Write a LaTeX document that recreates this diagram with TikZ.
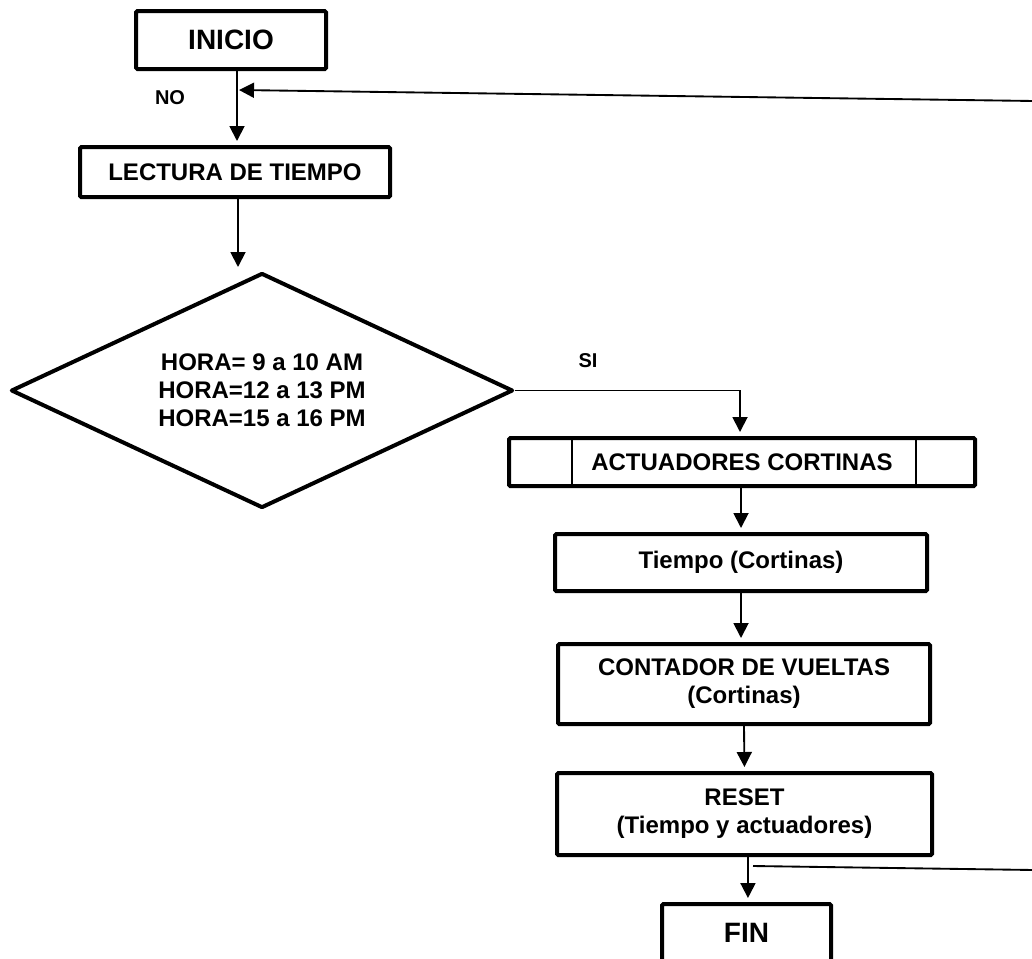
\documentclass[tikz,border=0pt]{standalone}
\usepackage{fontspec}
\setmainfont{Liberation Sans}
\usetikzlibrary{arrows.meta,shapes.geometric}

\tikzset{
  box/.style={draw, line width=3pt, rounded corners=1pt, fill=white,
    inner sep=0pt, align=center, font=\fontsize{18}{21}\selectfont\bfseries},
  bigbox/.style={box, font=\fontsize{21}{25}\selectfont\bfseries},
  decision/.style={draw, shape=diamond, aspect=2.14, line width=3pt, line join=round,
    inner sep=0pt, align=center, font=\fontsize{18}{21}\selectfont\bfseries},
  flow/.style={line width=1.4pt, -{Triangle[length=11.25pt,width=11.25pt]}, shorten >=3pt},
  loopline/.style={line width=1.4pt},
  tag/.style={font=\fontsize{15}{18}\selectfont\bfseries, inner sep=0pt}
}

\begin{document}
\begin{tikzpicture}[x=0.75pt,y=-0.75pt]
\useasboundingbox (0,0) rectangle (1032,958);

% process blocks
\node[bigbox, minimum width=142.5pt, minimum height=43.5pt] (ini) at (231,40) {INICIO};
\node[box, minimum width=232.5pt, minimum height=37.5pt] (lect) at (235,172) {LECTURA DE TIEMPO};
\node[decision, minimum width=376.5pt, minimum height=176.25pt] (dia) at (262,390.5)
  {HORA= 9 a 10 AM\\HORA=12 a 13 PM\\HORA=15 a 16 PM};
\node[box, minimum width=349.5pt, minimum height=36pt] (act) at (742,462) {ACTUADORES CORTINAS};
\draw[line width=1.1pt] ([xshift=-127.5pt]act.north) -- ([xshift=-127.5pt]act.south);
\draw[line width=1.1pt] ([xshift=130.5pt]act.north) -- ([xshift=130.5pt]act.south);
\node[box, minimum width=279pt, minimum height=42.75pt] (tiem) at (741,562.5) {Tiempo (Cortinas)};
\node[box, minimum width=279pt, minimum height=60pt] (cont) at (744,684) {CONTADOR DE VUELTAS\\(Cortinas)};
\node[box, minimum width=281.25pt, minimum height=61.5pt] (reset) at (744.5,814) {RESET\\(Tiempo y actuadores)};
\node[bigbox, minimum width=126.75pt, minimum height=43.5pt] (fin) at (746.5,933) {FIN};

% branch labels
\node[tag] (no) at (170,98) {NO};
\node[tag] (si) at (588,361) {SI};

% return path ends
\coordinate (j1) at (239,90);
\coordinate (rt) at (1034,101);
\coordinate (j2) at (753,866);
\coordinate (rb) at (1034,870);

% main flow
\draw[flow] ([xshift=4.5pt]ini.south) -- ([xshift=1.5pt]lect.north);
\draw[flow] ([xshift=2.25pt]lect.south) -- ([xshift=2.25pt]lect.south |- dia.north);
\draw[flow] (dia.east) -| ([xshift=-1.5pt]act.north);
\draw[flow] ([xshift=-0.75pt]act.south) -- (tiem.north);
\draw[flow] (tiem.south) -- ([xshift=-2.25pt]cont.north);
\draw[flow] (cont.south) -- (reset.north);
\draw[flow] ([xshift=2.6pt]reset.south) -- ([xshift=1.1pt]fin.north);

% loop back to the time reading
\draw[loopline] (j2) -- (rb);
\draw[loopline, -{Triangle[length=11.25pt,width=11.25pt]}] (rt) -- (j1);
\end{tikzpicture}
\end{document}
